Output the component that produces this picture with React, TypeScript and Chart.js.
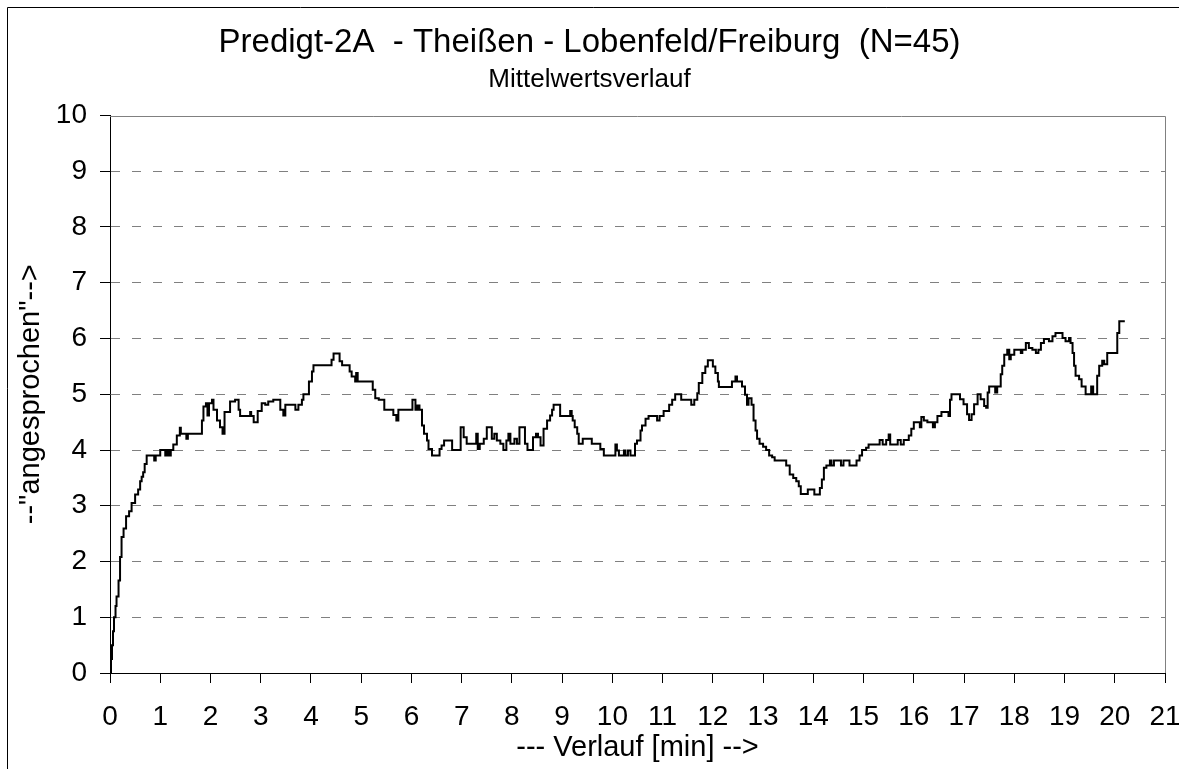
import { useEffect, useRef } from "react";
import { Chart, registerables } from "chart.js";

Chart.register(...registerables);

const TITLE = "Predigt-2A  - Theißen - Lobenfeld/Freiburg  (N=45)";
const SUBTITLE = "Mittelwertsverlauf";
const X_TITLE = "--- Verlauf [min] -->";
const Y_TITLE = '--"angesprochen"-->';

const X_MIN = 0;
const X_MAX = 21;
const Y_MIN = 0;
const Y_MAX = 10;

// time [min] at which the mean value changes
const minutes = [
  0, 0.02, 0.04, 0.06, 0.08, 0.11, 0.13, 0.17, 0.2, 0.23, 0.27, 0.32, 0.38, 0.43, 0.5, 0.56, 0.6, 0.63, 0.66, 0.69,
  0.73, 0.88, 0.91, 1.0, 1.1, 1.13, 1.17, 1.21, 1.26, 1.33, 1.39, 1.41, 1.52, 1.55, 1.83, 1.86, 1.91, 1.94, 1.97, 2.03,
  2.06, 2.13, 2.19, 2.24, 2.28, 2.39, 2.49, 2.56, 2.59, 2.79, 2.81, 2.86, 2.94, 3.02, 3.09, 3.15, 3.25, 3.39, 3.45, 3.49,
  3.69, 3.75, 3.82, 3.85, 3.96, 4.02, 4.05, 4.41, 4.45, 4.57, 4.62, 4.77, 4.81, 4.88, 4.9, 4.93, 5.23, 5.28, 5.35, 5.46,
  5.64, 5.7, 5.74, 6.02, 6.08, 6.12, 6.16, 6.21, 6.25, 6.31, 6.34, 6.41, 6.56, 6.6, 6.65, 6.81, 6.98, 7.04, 7.1, 7.29,
  7.32, 7.36, 7.44, 7.5, 7.6, 7.65, 7.7, 7.77, 7.83, 7.89, 7.93, 7.97, 8.05, 8.1, 8.15, 8.26, 8.31, 8.42, 8.48, 8.52,
  8.57, 8.63, 8.7, 8.76, 8.8, 8.83, 8.96, 9.16, 9.19, 9.21, 9.25, 9.3, 9.33, 9.41, 9.59, 9.76, 9.83, 10.06, 10.09, 10.13,
  10.23, 10.26, 10.31, 10.36, 10.45, 10.49, 10.56, 10.59, 10.66, 10.72, 10.89, 10.94, 11.02, 11.13, 11.19, 11.25, 11.37, 11.57, 11.63, 11.69,
  11.72, 11.79, 11.85, 11.9, 12.0, 12.05, 12.1, 12.12, 12.38, 12.45, 12.48, 12.58, 12.64, 12.68, 12.71, 12.77, 12.81, 12.85, 12.88, 12.93,
  13.0, 13.06, 13.12, 13.18, 13.23, 13.46, 13.53, 13.6, 13.66, 13.71, 13.75, 13.89, 14.02, 14.13, 14.17, 14.21, 14.26, 14.33, 14.36, 14.41,
  14.55, 14.6, 14.72, 14.86, 14.92, 14.97, 15.05, 15.1, 15.32, 15.38, 15.45, 15.5, 15.53, 15.68, 15.74, 15.8, 15.9, 15.95, 16.0, 16.12,
  16.15, 16.2, 16.27, 16.38, 16.42, 16.47, 16.55, 16.69, 16.72, 16.75, 16.92, 16.99, 17.06, 17.1, 17.15, 17.2, 17.27, 17.33, 17.4, 17.44,
  17.47, 17.5, 17.62, 17.66, 17.73, 17.76, 17.8, 17.86, 17.9, 17.93, 18.0, 18.13, 18.16, 18.23, 18.29, 18.36, 18.43, 18.48, 18.53, 18.59,
  18.69, 18.76, 18.82, 18.96, 19.02, 19.09, 19.12, 19.16, 19.19, 19.22, 19.29, 19.34, 19.42, 19.53, 19.57, 19.65, 19.69, 19.75, 19.79, 19.85,
  20.05, 20.09, 20.2,
];

// mean value ("angesprochen") from that time on
const meanValues = [
  0, 0.25, 0.5, 0.75, 1.0, 1.2, 1.37, 1.66, 2.08, 2.44, 2.59, 2.81, 2.9, 3.05, 3.2, 3.29, 3.44, 3.52, 3.6, 3.75,
  3.9, 3.81, 3.9, 4.0, 3.9, 4.0, 3.9, 4.0, 4.1, 4.26, 4.4, 4.29, 4.2, 4.29, 4.53, 4.78, 4.84, 4.62, 4.84, 4.9,
  4.72, 4.53, 4.41, 4.29, 4.68, 4.87, 4.9, 4.72, 4.61, 4.68, 4.61, 4.5, 4.7, 4.84, 4.81, 4.87, 4.9, 4.72, 4.62, 4.81,
  4.72, 4.81, 4.9, 5.0, 5.23, 5.41, 5.52, 5.62, 5.73, 5.59, 5.52, 5.41, 5.32, 5.23, 5.38, 5.23, 5.08, 4.93, 4.9, 4.72,
  4.63, 4.53, 4.72, 4.9, 4.72, 4.8, 4.72, 4.44, 4.29, 4.17, 4.02, 3.9, 4.02, 4.08, 4.17, 4.0, 4.41, 4.23, 4.11, 4.29,
  4.02, 4.11, 4.2, 4.41, 4.2, 4.29, 4.17, 4.11, 4.0, 4.17, 4.29, 4.11, 4.2, 4.11, 4.41, 4.11, 4.0, 4.23, 4.29, 4.23,
  4.08, 4.38, 4.53, 4.62, 4.72, 4.81, 4.61, 4.7, 4.61, 4.53, 4.41, 4.29, 4.11, 4.2, 4.11, 4.02, 3.9, 4.1, 3.99, 3.9,
  3.99, 3.9, 3.99, 3.9, 4.11, 4.17, 4.35, 4.44, 4.56, 4.61, 4.53, 4.61, 4.7, 4.81, 4.9, 5.0, 4.9, 4.81, 4.9, 5.02,
  5.2, 5.38, 5.5, 5.61, 5.5, 5.38, 5.23, 5.13, 5.23, 5.32, 5.23, 5.14, 4.99, 4.81, 4.93, 4.81, 4.53, 4.35, 4.2, 4.11,
  4.06, 4.0, 3.9, 3.87, 3.81, 3.72, 3.56, 3.5, 3.44, 3.35, 3.21, 3.29, 3.2, 3.32, 3.47, 3.68, 3.72, 3.81, 3.72, 3.81,
  3.72, 3.81, 3.72, 3.81, 3.9, 4.0, 4.04, 4.1, 4.18, 4.1, 4.18, 4.28, 4.1, 4.18, 4.1, 4.18, 4.26, 4.38, 4.5, 4.41,
  4.59, 4.53, 4.5, 4.41, 4.5, 4.61, 4.68, 4.61, 4.9, 5.0, 4.91, 4.82, 4.64, 4.54, 4.64, 4.82, 5.0, 4.91, 4.79, 4.76,
  5.03, 5.14, 5.03, 5.14, 5.36, 5.51, 5.71, 5.8, 5.63, 5.71, 5.8, 5.74, 5.8, 5.92, 5.83, 5.8, 5.74, 5.8, 5.92, 5.99,
  5.95, 6.04, 6.1, 6.01, 5.95, 6.01, 5.92, 5.74, 5.51, 5.33, 5.27, 5.14, 5.0, 5.14, 5.0, 5.33, 5.51, 5.6, 5.54, 5.74,
  6.1, 6.31, 6.31,
];

const FONT = "'Liberation Sans', Arial, Helvetica, sans-serif";

const framePlugin = {
  id: "frame",
  beforeDatasetsDraw(chart: any) {
    const { ctx, chartArea: a } = chart;
    ctx.save();
    ctx.strokeStyle = "#808080";
    ctx.lineWidth = 1;
    ctx.setLineDash([]);
    const top = Math.round(a.top) + 0.5;
    const right = Math.round(a.right) + 0.5;
    ctx.beginPath();
    ctx.moveTo(a.left, top);
    ctx.lineTo(right, top);
    ctx.lineTo(right, a.bottom);
    ctx.stroke();
    ctx.restore();
  },
  afterDraw(chart: any) {
    const { ctx, width, height } = chart;
    ctx.save();
    ctx.strokeStyle = "#000";
    ctx.lineWidth = 1;
    ctx.beginPath();
    ctx.moveTo(7.5, height);
    ctx.lineTo(7.5, 7.5);
    ctx.lineTo(width, 7.5);
    ctx.stroke();
    ctx.restore();
  },
};

export default function App() {
  const canvasRef = useRef<HTMLCanvasElement | null>(null);

  useEffect(() => {
    const canvas = canvasRef.current;
    if (!canvas) return;
    const points = minutes.map((t, i) => ({ x: t, y: meanValues[i] }));

    const chart = new Chart(canvas, {
      type: "line",
      data: {
        datasets: [
          {
            label: "Mittelwert",
            data: points,
            borderColor: "#000",
            borderWidth: 2,
            pointRadius: 0,
            stepped: true,
            fill: false,
            tension: 0,
          },
        ],
      },
      plugins: [framePlugin],
      options: {
        responsive: false,
        animation: false,
        events: [],
        layout: { padding: { left: 0, right: 0, top: 0, bottom: 0 } },
        plugins: {
          legend: { display: false },
          tooltip: { enabled: false },
          title: {
            display: true,
            text: TITLE,
            color: "#000",
            font: { family: FONT, size: 33, weight: "normal", lineHeight: 1.2 },
            padding: { top: 23.2, bottom: 0 },
          },
          subtitle: {
            display: true,
            text: SUBTITLE,
            color: "#000",
            font: { family: FONT, size: 26, weight: "normal", lineHeight: 1.2 },
            padding: { top: 1.6, bottom: 19.9 },
          },
        },
        scales: {
          x: {
            type: "linear",
            min: X_MIN,
            max: X_MAX,
            afterFit(scale: any) {
              scale.height = 96;
              scale.paddingLeft = 0;
              scale.paddingRight = 14;
            },
            ticks: {
              stepSize: 1,
              autoSkip: false,
              maxRotation: 0,
              padding: 17.2,
              color: "#000",
              font: { family: FONT, size: 28, lineHeight: 1.2 },
            },
            grid: {
              drawOnChartArea: false,
              drawTicks: true,
              tickLength: 10,
              tickColor: "#000",
              color: "#000",
            },
            border: { display: true, color: "#000", width: 1 },
            title: {
              display: true,
              text: X_TITLE,
              color: "#000",
              font: { family: FONT, size: 29, lineHeight: 1.2 },
              padding: { top: 0, bottom: 3.6 },
            },
          },
          y: {
            type: "linear",
            min: Y_MIN,
            max: Y_MAX,
            afterFit(scale: any) {
              scale.width = 110;
              scale.paddingTop = 0;
              scale.paddingBottom = 0;
            },
            ticks: {
              stepSize: 1,
              padding: 13,
              color: "#000",
              font: { family: FONT, size: 28, lineHeight: 1.2 },
            },
            grid: {
              drawOnChartArea: true,
              drawTicks: true,
              tickLength: 10,
              tickColor: "#000",
              tickBorderDash: [],
              lineWidth: 1,
              color: (c: any) =>
                c.tick && (c.tick.value === Y_MIN || c.tick.value === Y_MAX) ? "rgba(0,0,0,0)" : "#808080",
            },
            border: { display: true, color: "#000", width: 1, dash: [9, 12], dashOffset: 0 },
            title: {
              display: true,
              text: Y_TITLE,
              color: "#000",
              font: { family: FONT, size: 29, lineHeight: 1.2 },
              padding: { top: 13.6, bottom: 0 },
            },
          },
        },
      },
    });

    return () => chart.destroy();
  }, []);

  return (
    <div style={{ position: "absolute", left: 0, top: 0, width: 1179, height: 769, background: "#fff" }}>
      <canvas ref={canvasRef} width={1179} height={769} style={{ display: "block" }} />
    </div>
  );
}
